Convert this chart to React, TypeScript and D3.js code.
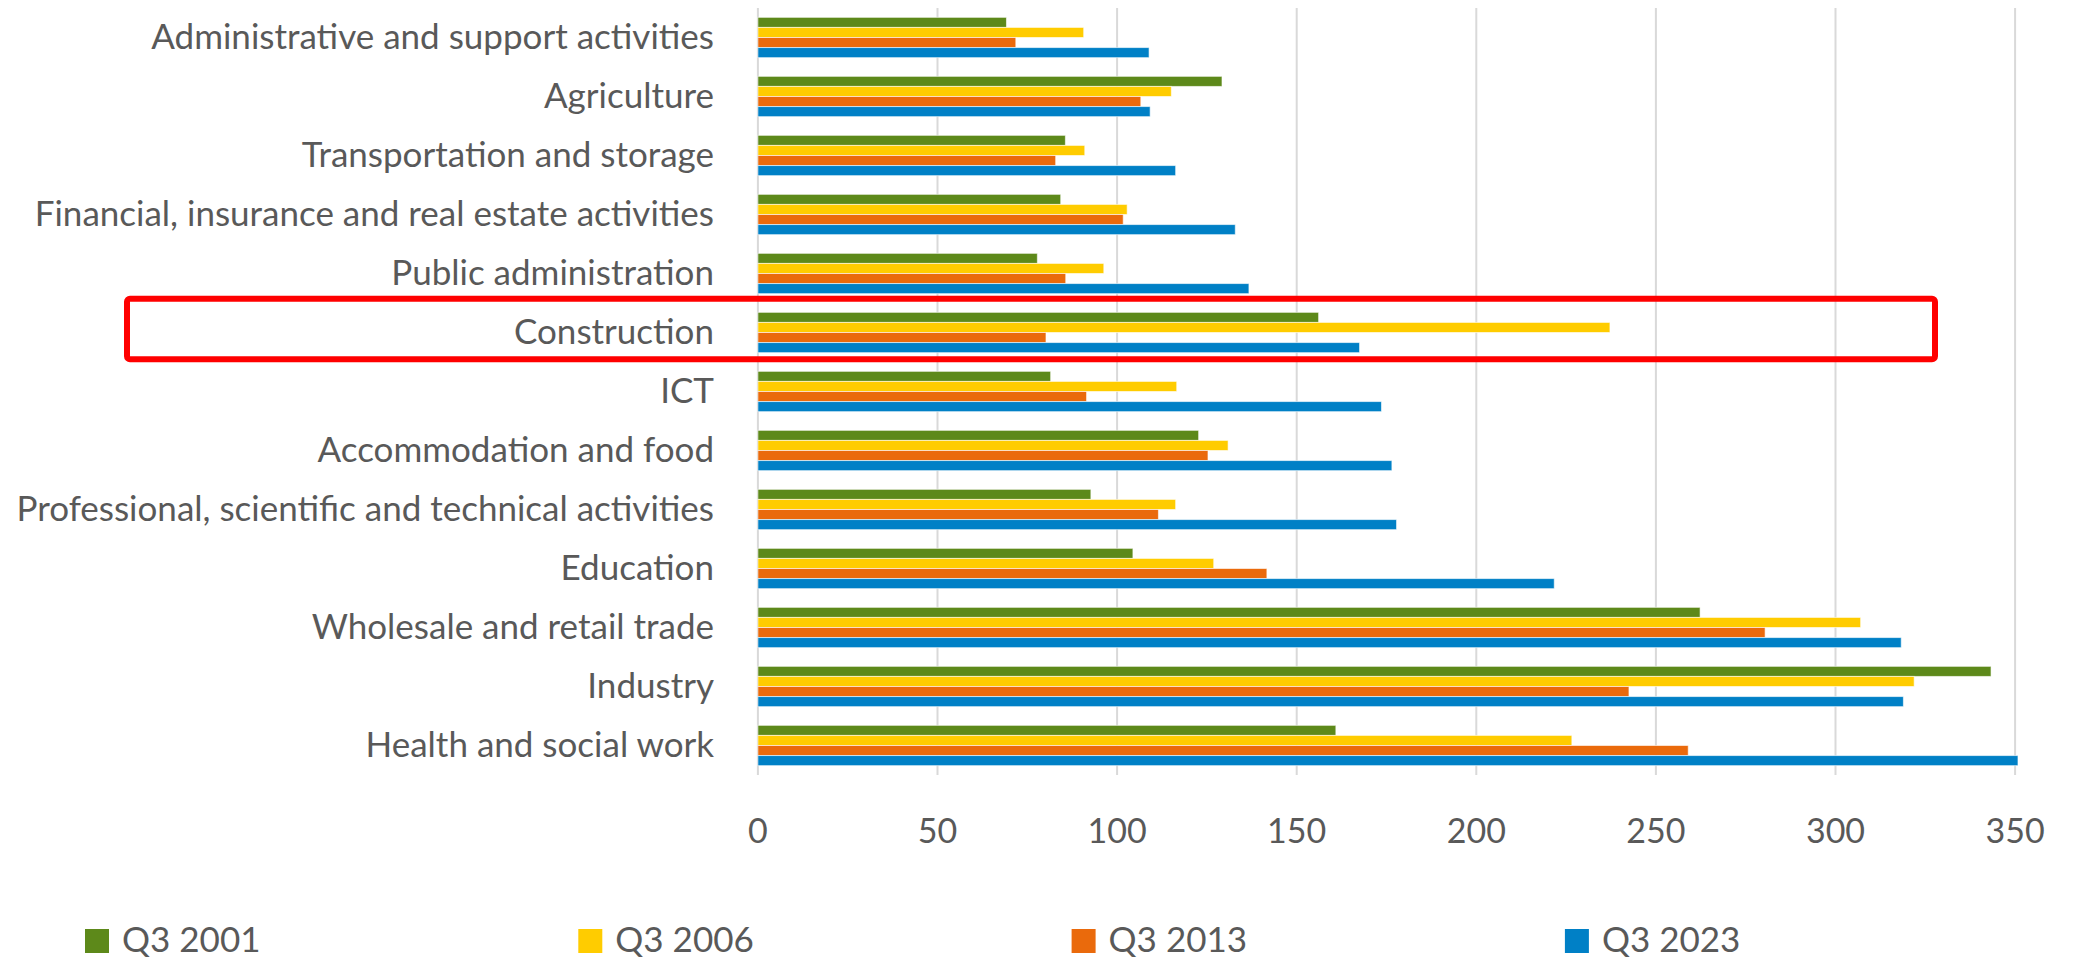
import { useEffect, useRef } from "react"
import * as d3 from "d3"

// categories, top to bottom
const categories = [
    "Administrative and support activities",
    "Agriculture",
    "Transportation and storage",
    "Financial, insurance and real estate activities",
    "Public administration",
    "Construction",
    "ICT",
    "Accommodation and food",
    "Professional, scientific and technical activities",
    "Education",
    "Wholesale and retail trade",
    "Industry",
    "Health and social work",
]

const seriesNames = ["Q3 2001", "Q3 2006", "Q3 2013", "Q3 2023"]
const seriesColors = ["#5D891A", "#FFCC00", "#EA6A0C", "#0080C6"]

const q2001 = [69.2, 129.2, 85.6, 84.3, 77.8, 156.1, 81.5, 122.7, 92.7, 104.4, 262.3, 343.3, 160.9]
const q2006 = [90.7, 115.1, 91.0, 102.8, 96.3, 237.2, 116.6, 130.9, 116.3, 126.9, 307.0, 321.9, 226.6]
const q2013 = [71.8, 106.6, 82.9, 101.7, 85.7, 80.2, 91.5, 125.3, 111.5, 141.7, 280.4, 242.5, 259.0]
const q2023 = [108.9, 109.2, 116.3, 132.9, 136.7, 167.5, 173.6, 176.5, 177.8, 221.7, 318.3, 318.9, 350.8]

const xTicks = [0, 50, 100, 150, 200, 250, 300, 350]
const highlighted = "Construction"

export default function App() {
    const ref = useRef<SVGSVGElement>(null)

    useEffect(() => {
        document.body.style.margin = "0"
        document.body.style.overflow = "hidden"

        const width = 2080
        const height = 961
        const textColor = "#595959"
        const font = "Lato, 'Open Sans', sans-serif"
        const fontSize = 35

        const plot = { left: 757.9, right: 2015.1, top: 8, bottom: 775 }
        const values = [q2001, q2006, q2013, q2023]

        const x = d3.scaleLinear().domain([0, 350]).range([plot.left, plot.right])
        const y = d3.scaleBand<string>()
            .domain(categories)
            .range([plot.top, plot.bottom])
            .paddingInner(0.317)
            .paddingOuter(0.1585)
        const ySub = d3.scaleBand<number>()
            .domain(d3.range(seriesNames.length))
            .range([0, y.bandwidth()])

        const svg = d3.select(ref.current)
        svg.selectAll("*").remove()
        svg
            .attr("width", width)
            .attr("height", height)
            .attr("viewBox", `0 0 ${width} ${height}`)
            .style("position", "absolute")
            .style("left", "0px")
            .style("top", "0px")
            .style("background", "#fff")

        // gridlines
        svg.append("g")
            .selectAll("line")
            .data(xTicks)
            .join("line")
                .attr("x1", d => x(d))
                .attr("x2", d => x(d))
                .attr("y1", plot.top)
                .attr("y2", plot.bottom)
                .attr("stroke", "#D9D9D9")
                .attr("stroke-width", 2)

        // bars
        const groups = svg.append("g")
            .selectAll("g")
            .data(categories)
            .join("g")
                .attr("transform", d => `translate(0, ${y(d)})`)
        groups.selectAll("rect")
            .data((_, i) => values.map((s, k) => ({ k, v: s[i] })))
            .join("rect")
                .attr("x", x(0))
                .attr("y", d => ySub(d.k) as number)
                .attr("width", d => x(d.v) - x(0))
                .attr("height", ySub.bandwidth())
                .attr("fill", d => seriesColors[d.k])
                .attr("stroke", "#fff")
                .attr("stroke-opacity", 0.6)
                .attr("stroke-width", 1)

        // category labels
        svg.append("g")
            .selectAll("text")
            .data(categories)
            .join("text")
                .attr("x", 714)
                .attr("y", d => (y(d) as number) + y.bandwidth() / 2 + 11)
                .attr("text-anchor", "end")
                .attr("fill", textColor)
                .attr("font-family", font)
                .attr("font-size", fontSize)
                .text(d => d)

        // x tick labels
        svg.append("g")
            .selectAll("text")
            .data(xTicks)
            .join("text")
                .attr("x", d => x(d))
                .attr("y", 843)
                .attr("text-anchor", "middle")
                .attr("fill", textColor)
                .attr("font-family", font)
                .attr("font-size", 34)
                .text(d => d)

        // legend
        const legend = svg.append("g")
            .selectAll("g")
            .data(seriesNames)
            .join("g")
                .attr("transform", (_, i) => `translate(${85 + i * 493.3}, 0)`)
        legend.append("rect")
            .attr("x", 0)
            .attr("y", 929)
            .attr("width", 24)
            .attr("height", 24)
            .attr("fill", (_, i) => seriesColors[i])
        legend.append("text")
            .attr("x", 37)
            .attr("y", 952)
            .attr("fill", textColor)
            .attr("font-family", font)
            .attr("font-size", 35)
            .text(d => d)

        // highlight box round Construction
        const hy = y(highlighted) as number
        svg.append("rect")
            .attr("x", 127)
            .attr("y", hy - 13.5)
            .attr("width", 1935 - 127)
            .attr("height", y.bandwidth() + 20)
            .attr("rx", 3)
            .attr("fill", "none")
            .attr("stroke", "#FF0000")
            .attr("stroke-width", 6)
    }, [])

    return <svg ref={ref}></svg>
}
